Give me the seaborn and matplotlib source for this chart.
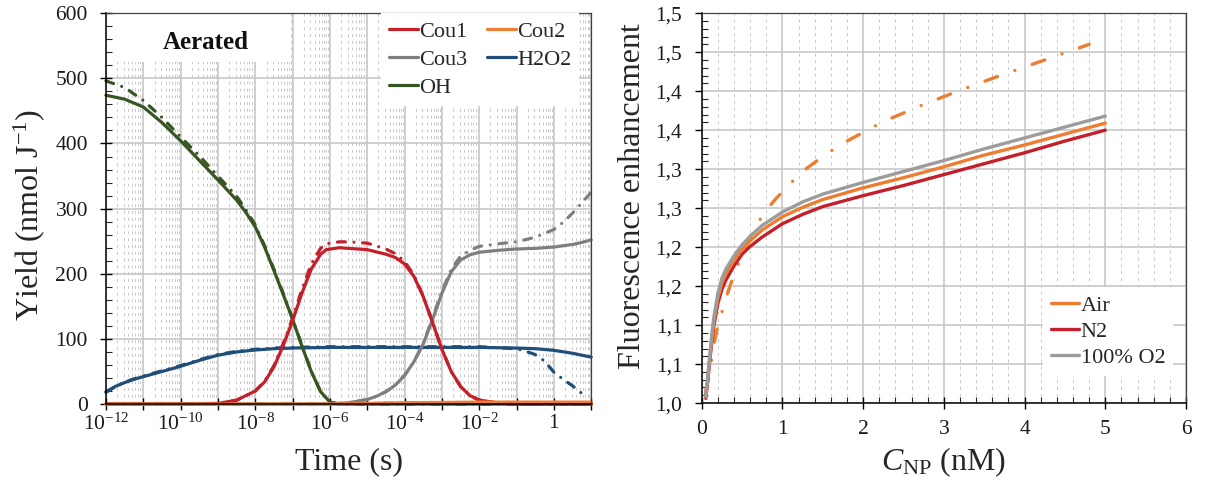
import numpy as np
import pandas as pd
import seaborn as sns
import matplotlib.pyplot as plt
from matplotlib.lines import Line2D
from matplotlib.patches import Rectangle
from matplotlib.ticker import MultipleLocator, LogLocator, NullFormatter

sns.set_style('ticks')
plt.rcParams['font.family'] = ['Liberation Serif', 'DejaVu Serif']
plt.rcParams['mathtext.fontset'] = 'custom'
plt.rcParams['mathtext.rm'] = 'Liberation Serif'
plt.rcParams['mathtext.it'] = 'Liberation Serif:italic'
plt.rcParams['mathtext.bf'] = 'Liberation Serif:bold'

# ---- left panel: yields vs log10(time / s) ----
oh_t = [-12, -11.5, -11, -10.5, -10, -9.5, -9, -8.5, -8.25, -8, -7.75, -7.5, -7.25, -7, -6.75, -6.5, -6.25, -6, -5.75, 1]
oh_solid = [474, 468, 456, 432, 404, 374, 344, 313, 294, 272, 241, 205, 168, 130, 89, 50, 19, 3, 0, 0]
oh_dd = [496, 486, 466, 440, 410, 381, 350, 319, 298, 275, 243, 207, 170, 131, 90, 51, 19, 3, 0, 0]

h2o2_t = [-12, -11.75, -11.5, -11.25, -11, -10.5, -10, -9.5, -9, -8.5, -8, -7.5, -7, -6, -4, -2, -1, -0.5, 0, 0.5, 1]
h2o2_solid = [18, 27, 33, 38, 42, 50, 58, 67, 75, 80, 83, 85, 86, 87, 87, 87, 86, 85, 82.5, 78, 72]
h2o2_dd_t = [-12, -11.5, -11, -10.5, -10, -9.5, -9, -8.5, -8, -7.5, -7, -6, -4, -2, -1, -0.75, -0.5, -0.25, 0, 0.25, 0.5, 0.8]
h2o2_dd = [19, 34, 43, 51, 59, 68, 76, 81, 84, 86, 87, 88, 88, 88, 85, 81, 76, 66, 49, 38, 28, 14]

cou1_t = [-12, -9.5, -9, -8.5, -8, -7.75, -7.5, -7.25, -7, -6.75, -6.5, -6.25, -6.1, -5.75, -5.5, -5, -4.5, -4.25, -4,
          -3.75, -3.5, -3.25, -3, -2.75, -2.5, -2.25, -2, -1.5, -1, 1]
cou1_solid = [0, 0, 1, 6, 20, 34, 57, 90, 128, 170, 207, 230, 237, 240, 239, 237, 230, 225, 215,
              196, 165, 125, 84, 50, 27, 13, 6, 2, 0, 0]
cou1_dd = [0, 0, 1, 6, 20, 35, 59, 93, 132, 176, 215, 239, 246, 249, 249, 247, 238, 231, 219,
           198, 166, 126, 84, 50, 27, 13, 6, 2, 0, 0]

cou2_t = [-12, -6, -5, -4, -2, 1]
cou2_solid = [0, 0, 1, 2, 3, 3]
cou2_dd = [0, 0, 1, 2, 2, 2]

cou3_t = [-12, -6, -5.5, -5, -4.75, -4.5, -4.25, -4, -3.75, -3.5, -3.25, -3, -2.75, -2.5, -2.25, -2,
          -1.5, -1, -0.5, 0, 0.25, 0.5, 0.75, 1]
cou3_solid = [0, 0, 2, 7, 12, 19, 29, 44, 65, 92, 130, 170, 203, 221, 229, 233,
              236, 238, 239, 241, 243, 245, 248, 252]
cou3_dd = [0, 0, 2, 7, 12, 19, 29, 44, 65, 93, 132, 173, 207, 227, 236, 242,
           246, 249, 256, 268, 279, 293, 309, 325]

left_ticks_exp = list(range(-12, 2))
left_tick_labels = ['$10^{-12}$', '', '$10^{-10}$', '', '$10^{-8}$', '', '$10^{-6}$', '',
                    '$10^{-4}$', '', '$10^{-2}$', '', '1', '']

# ---- right panel: fluorescence enhancement vs C_NP (nM) ----
c_np = [0.05, 0.075, 0.1, 0.125, 0.15, 0.2, 0.25, 0.3, 0.4, 0.5, 0.6, 0.75, 1, 1.25, 1.5, 2, 2.5, 3, 3.5, 4, 4.5, 5]
fe_o2 = [1.008, 1.035, 1.062, 1.088, 1.11, 1.141, 1.16, 1.172, 1.189, 1.203, 1.214, 1.228, 1.245, 1.258,
         1.268, 1.283, 1.297, 1.311, 1.326, 1.34, 1.354, 1.368]
fe_air = [1.008, 1.033, 1.058, 1.083, 1.105, 1.135, 1.154, 1.166, 1.183, 1.197, 1.208, 1.222, 1.239, 1.251,
          1.261, 1.276, 1.289, 1.303, 1.318, 1.331, 1.345, 1.359]
fe_n2 = [1.006, 1.03, 1.055, 1.079, 1.099, 1.128, 1.146, 1.158, 1.176, 1.191, 1.201, 1.213, 1.23, 1.242,
         1.252, 1.266, 1.279, 1.293, 1.307, 1.321, 1.336, 1.35]
c_np_dd = [0.05, 0.1, 0.15, 0.2, 0.25, 0.3, 0.4, 0.5, 0.6, 0.7, 0.8, 0.9, 1.1, 1.3, 1.55, 1.8, 2.25,
           2.75, 3.25, 3.75, 4.25, 4.8]
fe_air_dd = [1.015, 1.04, 1.075, 1.1, 1.117, 1.135, 1.165, 1.19, 1.213, 1.232, 1.247, 1.26, 1.282, 1.301,
             1.32, 1.336, 1.361, 1.383, 1.403, 1.422, 1.44, 1.46]

right_yticks = [1.0, 1.05, 1.1, 1.15, 1.2, 1.25, 1.3, 1.35, 1.4, 1.45, 1.5]
right_ytick_labels = ['1,0', '1,1', '1,1', '1,2', '1,2', '1,3', '1,3', '1,4', '1,4', '1,5', '1,5']

RED = '#C3202B'
ORANGE = '#ED7D31'
GRAY = '#7F7F7F'
GRAY_R = '#9C9C9C'
BLUE = '#1F4E79'
GREEN = '#375623'

DD_LEFT = (0, (2.5, 2.7, 0.01, 2.7))
DD_RIGHT = (0, (4, 5.5, 0.01, 5.5))

fig = plt.figure(figsize=(12.07, 4.88), dpi=100)
ax1 = fig.add_axes([0.0878, 0.172, 0.402, 0.801])
ax2 = fig.add_axes([0.5814, 0.174, 0.4012, 0.799])


def frame(t, y):
    return pd.DataFrame({'t': 10.0 ** np.array(t, dtype=float), 'y': y})


left_series = [
    (h2o2_t, h2o2_solid, h2o2_dd_t, h2o2_dd, BLUE),
    (oh_t, oh_solid, oh_t, oh_dd, GREEN),
    (cou3_t, cou3_solid, cou3_t, cou3_dd, GRAY),
    (cou1_t, cou1_solid, cou1_t, cou1_dd, RED),
    (cou2_t, cou2_solid, cou2_t, cou2_dd, ORANGE),
]

ax1.set_xscale('log')
for _, _, tdd, ydd, col in left_series:
    sns.lineplot(data=frame(tdd, ydd), x='t', y='y', ax=ax1, color=col, lw=2.3,
                 linestyle=DD_LEFT, dash_capstyle='round', clip_on=False)
for ts, ys, _, _, col in left_series:
    sns.lineplot(data=frame(ts, ys), x='t', y='y', ax=ax1, color=col, lw=2.3,
                 solid_capstyle='round', solid_joinstyle='round', clip_on=False)

ax1.set_xlim(1e-12, 10)
ax1.set_ylim(0, 600)
ax1.set_xticks(10.0 ** np.array(left_ticks_exp, dtype=float), labels=left_tick_labels)
ax1.xaxis.set_minor_locator(LogLocator(base=10, subs=np.arange(2, 10), numticks=100))
ax1.xaxis.set_minor_formatter(NullFormatter())
ax1.yaxis.set_major_locator(MultipleLocator(100))
ax1.yaxis.set_minor_locator(MultipleLocator(20))
ax1.tick_params(axis='x', which='minor', length=0)
ax1.tick_params(axis='x', which='major', direction='inout', length=8, width=1, pad=3, labelsize=15.5)
ax1.tick_params(axis='y', which='major', direction='inout', length=8, width=1, pad=9, labelsize=15.5)
ax1.tick_params(axis='y', which='minor', direction='in', length=4, width=0.8)

ax1.add_patch(Rectangle((0.021, 0.875), 0.358, 0.125, transform=ax1.transAxes,
                        facecolor='white', edgecolor='none', zorder=1))
ax1.text(0.205, 0.926, 'Aerated', transform=ax1.transAxes, ha='center', va='center',
         fontsize=18, fontweight='bold', color='#111111', zorder=3)

leg_order = [('Cou1', RED), ('Cou3', GRAY), ('OH', GREEN), ('Cou2', ORANGE), ('H2O2', BLUE)]
handles = [Line2D([], [], color=c, lw=2.3) for _, c in leg_order]
leg = ax1.legend(handles, [n for n, _ in leg_order], ncol=2, loc='upper right',
                 bbox_to_anchor=(0.975, 1.0), frameon=True, fancybox=False, fontsize=16,
                 handlelength=1.3, handletextpad=0.05, columnspacing=0.9, labelspacing=0.35,
                 borderpad=0.35, borderaxespad=0)
leg.get_frame().set_facecolor('white')
leg.get_frame().set_edgecolor('none')
leg.get_frame().set_alpha(1)

ax1.set_xlabel('Time (s)', fontsize=23, labelpad=9)
ax1.set_ylabel('Yield (nmol J$^{-1}$)', fontsize=23, labelpad=6, y=0.485)

# right panel
sns.lineplot(x=c_np_dd, y=fe_air_dd, ax=ax2, color=ORANGE, lw=2.4, linestyle=DD_RIGHT,
             dash_capstyle='round')
sns.lineplot(x=c_np, y=fe_n2, ax=ax2, color=RED, lw=2.4, solid_joinstyle='round')
sns.lineplot(x=c_np, y=fe_air, ax=ax2, color=ORANGE, lw=2.4, solid_joinstyle='round')
sns.lineplot(x=c_np, y=fe_o2, ax=ax2, color=GRAY_R, lw=2.4, solid_joinstyle='round')

ax2.set_xlim(0, 6)
ax2.set_ylim(1.0, 1.5)
ax2.xaxis.set_major_locator(MultipleLocator(1))
ax2.xaxis.set_minor_locator(MultipleLocator(0.2))
ax2.set_yticks(right_yticks, labels=right_ytick_labels)
ax2.yaxis.set_minor_locator(MultipleLocator(0.01))
ax2.tick_params(axis='x', which='major', direction='inout', length=8, width=1, pad=8, labelsize=15.5)
ax2.tick_params(axis='y', which='major', direction='out', length=5, width=1, pad=9, labelsize=15.5)
ax2.tick_params(which='minor', direction='in', length=4, width=0.8)

handles2 = [Line2D([], [], color=c, lw=2.4) for c in (ORANGE, RED, GRAY_R)]
leg2 = ax2.legend(handles2, ['Air', 'N2', '100% O2'], loc='upper right',
                  bbox_to_anchor=(0.973, 0.297), frameon=True, fancybox=False, fontsize=16,
                  handlelength=1.3, handletextpad=0.05, labelspacing=0.25,
                  borderpad=0.35, borderaxespad=0)
leg2.get_frame().set_facecolor('white')
leg2.get_frame().set_edgecolor('none')
leg2.get_frame().set_alpha(1)

ax2.set_xlabel(r'$C_{\mathrm{NP}}$ (nM)', fontsize=23, labelpad=5)
ax2.set_ylabel('Fluorescence enhancement', fontsize=23, labelpad=6, y=0.53)

for ax in (ax1, ax2):
    ax.grid(which='major', color='#C4C4C4', lw=1.1, ls='-')
    ax.grid(which='minor', axis='x', color='#C8C8C8', lw=0.7, ls=(0, (3, 4)))
    ax.set_axisbelow(True)
    for s in ('left', 'bottom'):
        ax.spines[s].set_color('black')
        ax.spines[s].set_linewidth(1.1)
    for s in ('top', 'right'):
        ax.spines[s].set_visible(True)
        ax.spines[s].set_color('#404040')
        ax.spines[s].set_linewidth(0.9)
    ax.tick_params(colors='black', labelcolor='#1a1a1a')

fig.savefig('out.png', dpi=100)
